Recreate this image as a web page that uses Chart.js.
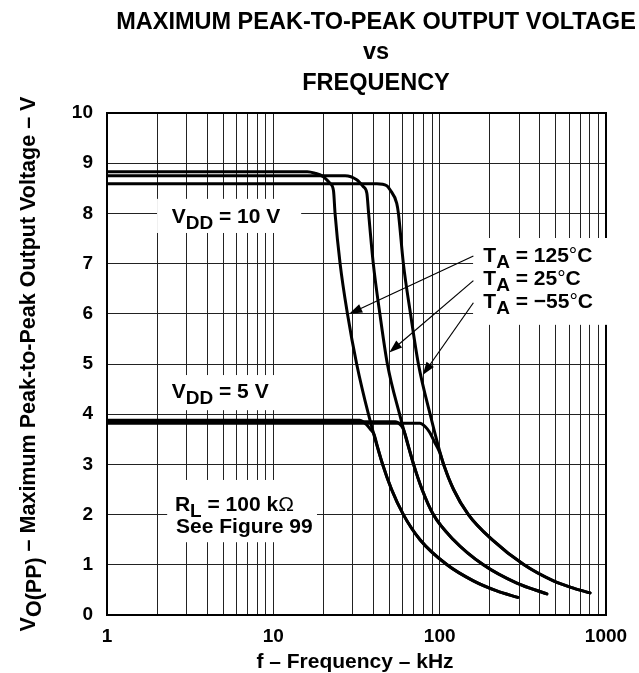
<!DOCTYPE html>
<html><head><meta charset="utf-8">
<script src="https://cdn.jsdelivr.net/npm/chart.js@4.4.0/dist/chart.umd.min.js"></script>
<style>html,body{margin:0;padding:0;background:#fff;}#wrap{width:639px;height:673px;}</style>
</head><body><div id="wrap"><canvas id="c" width="639" height="673"></canvas></div>
<script>
const FONT = '"Liberation Sans", Arial, Helvetica, sans-serif';

// ---- data (frequency in kHz, output voltage in V) ----
const freq125_10 = [1, 16.0, 17.8, 20.0, 21.9, 23.0, 23.5, 25.2, 27.9, 31.7, 37.3, 45.4, 51.4, 60.5, 76.2, 110.8, 159.5, 220.5, 295];
const volt125_10 = [8.83, 8.83, 8.8, 8.73, 8.6, 8.45, 8.0, 7.0, 6.0, 5.0, 4.0, 3.0, 2.5, 2.0, 1.5, 1.0, 0.68, 0.48, 0.35];
const freq25_10 = [1, 27.0, 31.7, 34.8, 36.5, 37.4, 39.9, 43.7, 48.5, 57.4, 69.7, 78.4, 91.6, 121, 183, 291, 441];
const volt25_10 = [8.75, 8.75, 8.67, 8.53, 8.4, 8.0, 7.0, 6.0, 5.0, 4.0, 3.0, 2.5, 2.0, 1.5, 1.0, 0.635, 0.42];
const freqM55_10 = [1, 41.9, 48.1, 50.3, 55.2, 56.5, 60.5, 66.8, 74.5, 87.6, 105.6, 121.2, 148.8, 206.6, 321.7, 483, 637, 802];
const voltM55_10 = [8.59, 8.59, 8.55, 8.47, 8.2, 8.0, 7.0, 6.0, 5.0, 4.0, 3.0, 2.5, 2.0, 1.5, 1.0, 0.68, 0.535, 0.44];
const freq125_5 = [1, 33.0, 36.1, 38.3, 40.3, 42.3, 45.4, 51.4, 60.5, 76.2, 110.8, 159.5, 220.5, 295];
const volt125_5 = [3.88, 3.88, 3.8, 3.7, 3.6, 3.35, 3.0, 2.5, 2.0, 1.5, 1.0, 0.68, 0.48, 0.35];
const freq25_5 = [1, 54.0, 58.5, 60.5, 62.0, 65.7, 69.7, 78.4, 91.6, 121, 183, 291, 441];
const volt25_5 = [3.85, 3.85, 3.78, 3.7, 3.6, 3.3, 3.0, 2.5, 2.0, 1.5, 1.0, 0.635, 0.42];
const freqM55_5 = [1, 76, 82, 87, 93, 99.8, 105.6, 121.2, 148.8, 206.6, 321.7, 483, 637, 802];
const voltM55_5 = [3.82, 3.82, 3.75, 3.64, 3.45, 3.25, 3.0, 2.5, 2.0, 1.5, 1.0, 0.68, 0.535, 0.44];

// ---- axes ----
const xGridValues = [1,2,3,4,5,6,7,8,9,10,20,30,40,50,60,70,80,90,100,200,300,400,500,600,700,800,900,1000];
const xTickLabels = ['1','10','100','1000'];
const yTickValues = [0,1,2,3,4,5,6,7,8,9,10];

// ---- text ----
const titleLines = ['MAXIMUM PEAK-TO-PEAK OUTPUT VOLTAGE', 'vs', 'FREQUENCY'];
const xTitle = 'f \u2013 Frequency \u2013 kHz';
const yTitle = [{t:'V'},{t:'O(PP)',sub:true},{t:' \u2013 Maximum Peak-to-Peak Output Voltage \u2013 V'}];

// annotation anchors in data units (kHz, V)
const vdd10Label = {f:2.45, v:7.80, segs:[{t:'V'},{t:'DD',sub:true},{t:' = 10 V'}]};
const vdd5Label  = {f:2.45, v:4.32, segs:[{t:'V'},{t:'DD',sub:true},{t:' = 5 V'}]};
const rlLabel    = {f:2.56, v:2.08, segs:[{t:'R'},{t:'L',sub:true},{t:' = 100 k'},{t:'\u03A9',w:'normal'}]};
const figLabel   = {f:2.60, v:1.63, segs:[{t:'See Figure 99'}]};
const taLabels = [
  {f:183, v:7.04, segs:[{t:'T'},{t:'A',sub:true},{t:' = 125'},{t:'\u00B0',w:'normal'},{t:'C'}]},
  {f:183, v:6.57, segs:[{t:'T'},{t:'A',sub:true},{t:' = 25'},{t:'\u00B0',w:'normal'},{t:'C'}]},
  {f:183, v:6.11, segs:[{t:'T'},{t:'A',sub:true},{t:' = \u221255'},{t:'\u00B0',w:'normal'},{t:'C'}]}
];
const leaderStartF = [159.5, 159.5, 159.5];
const leaderStartV = [7.15, 6.66, 6.22];
const leaderTipF = [28.6, 49.8, 79.1];
const leaderTipV = [6.0, 5.23, 4.78];
// white label backgrounds (kHz range, V range)
const labelBoxes = [
  {f0:2.0, f1:14.7, v0:8.29, v1:7.61},
  {f0:2.03, f1:14.5, v0:4.78, v1:4.08},
  {f0:2.30, f1:18.3, v0:2.69, v1:1.45},
  {f0:158.8, f1:1044, v0:7.51, v1:5.78}
];

function pts(f, v){ return f.map((x,i)=>({x:x, y:v[i]})); }
function ds(f, v){
  return {data: pts(f,v), borderColor:'#000', borderWidth:3, pointRadius:0, fill:false,
          cubicInterpolationMode:'monotone', borderCapStyle:'round', borderJoinStyle:'round'};
}

function richWidth(ctx, segs, size, sub){
  let w = 0;
  for (const s of segs){ ctx.font = `${s.w||'bold'} ${s.sub?sub:size}px ${FONT}`; w += ctx.measureText(s.t).width; }
  return w;
}
function drawRich(ctx, segs, x, y, size, sub, subDy){
  let cx = x;
  for (const s of segs){
    ctx.font = `${s.w||'bold'} ${s.sub?sub:size}px ${FONT}`;
    ctx.fillText(s.t, cx, y + (s.sub?subDy:0));
    cx += ctx.measureText(s.t).width;
  }
}

const annot = {
  id:'annot',
  beforeDatasetsDraw(chart){
    const {ctx, chartArea:a, scales:{x, y}} = chart;
    ctx.save();
    ctx.strokeStyle = '#000'; ctx.lineWidth = 2;
    ctx.strokeRect(a.left, a.top, a.right - a.left, a.bottom - a.top);
    ctx.fillStyle = '#fff';
    for (const b of labelBoxes){
      const x0 = x.getPixelForValue(b.f0), x1 = x.getPixelForValue(b.f1);
      const y0 = y.getPixelForValue(b.v0), y1 = y.getPixelForValue(b.v1);
      ctx.fillRect(x0, y0, x1 - x0, y1 - y0);
    }
    ctx.restore();
  },
  afterDatasetsDraw(chart){
    const {ctx, chartArea:a, scales:{x, y}} = chart;
    ctx.save();
    ctx.fillStyle = '#000';
    ctx.textBaseline = 'alphabetic';
    ctx.textAlign = 'left';
    for (const L of [vdd10Label, vdd5Label, rlLabel, figLabel, ...taLabels]){
      drawRich(ctx, L.segs, x.getPixelForValue(L.f), y.getPixelForValue(L.v), 21, 19, 6);
    }
    // leaders with arrowheads
    ctx.strokeStyle = '#000'; ctx.lineWidth = 1.2;
    for (let i = 0; i < leaderTipF.length; i++){
      const sx = x.getPixelForValue(leaderStartF[i]), sy = y.getPixelForValue(leaderStartV[i]);
      const tx = x.getPixelForValue(leaderTipF[i]), ty = y.getPixelForValue(leaderTipV[i]);
      const ang = Math.atan2(ty - sy, tx - sx);
      ctx.beginPath(); ctx.moveTo(sx, sy); ctx.lineTo(tx - 8*Math.cos(ang), ty - 8*Math.sin(ang)); ctx.stroke();
      const L = 13, W = 4.5;
      const bx = tx - L*Math.cos(ang), by = ty - L*Math.sin(ang);
      ctx.beginPath();
      ctx.moveTo(tx, ty);
      ctx.lineTo(bx + W*Math.sin(ang), by - W*Math.cos(ang));
      ctx.lineTo(bx - W*Math.sin(ang), by + W*Math.cos(ang));
      ctx.closePath(); ctx.fill();
    }
    // title
    ctx.textAlign = 'center';
    ctx.font = `bold 23.5px ${FONT}`;
    const tb = [29, 59, 90];
    titleLines.forEach((t, i) => ctx.fillText(t, 376, tb[i]));
    // x title
    ctx.font = `bold 21px ${FONT}`;
    ctx.textBaseline = 'middle';
    ctx.fillText(xTitle, 355, 662);
    // y title
    ctx.translate(29, 364);
    ctx.rotate(-Math.PI/2);
    ctx.textAlign = 'left';
    const w = richWidth(ctx, yTitle, 21.5, 21.5);
    drawRich(ctx, yTitle, -w/2, 0, 21.5, 21.5, 6);
    ctx.restore();
  }
};

new Chart(document.getElementById('c'), {
  type: 'line',
  data: { datasets: [
    ds(freq125_10, volt125_10), ds(freq25_10, volt25_10), ds(freqM55_10, voltM55_10),
    ds(freq125_5, volt125_5), ds(freq25_5, volt25_5), ds(freqM55_5, voltM55_5)
  ]},
  options: {
    responsive: false, animation: false, devicePixelRatio: 1,
    layout: { padding: { top: 113, right: 33, left: 0, bottom: 0 } },
    plugins: { legend: { display: false }, tooltip: { enabled: false }, title: { display: false } },
    scales: {
      x: {
        type: 'logarithmic', min: 1, max: 1000,
        afterBuildTicks: s => { s.ticks = xGridValues.map(v => ({value: v})); },
        afterFit: s => { s.height = 58; },
        grid: { color: '#222', lineWidth: 1, drawTicks: false },
        border: { display: false },
        ticks: { autoSkip: false, maxRotation: 0, minRotation: 0, padding: 10, color: '#000',
                 font: { family: FONT, size: 19, weight: 'bold' },
                 callback: v => xTickLabels.includes(String(v)) ? String(v) : '' }
      },
      y: {
        type: 'linear', min: 0, max: 10,
        afterBuildTicks: s => { s.ticks = yTickValues.map(v => ({value: v})); },
        afterFit: s => { s.width = 107; },
        grid: { color: '#222', lineWidth: 1, drawTicks: false },
        border: { display: false },
        ticks: { padding: 14, color: '#000', font: { family: FONT, size: 19, weight: 'bold' },
                 callback: v => String(v) }
      }
    }
  },
  plugins: [annot]
});
</script>
</body></html>
